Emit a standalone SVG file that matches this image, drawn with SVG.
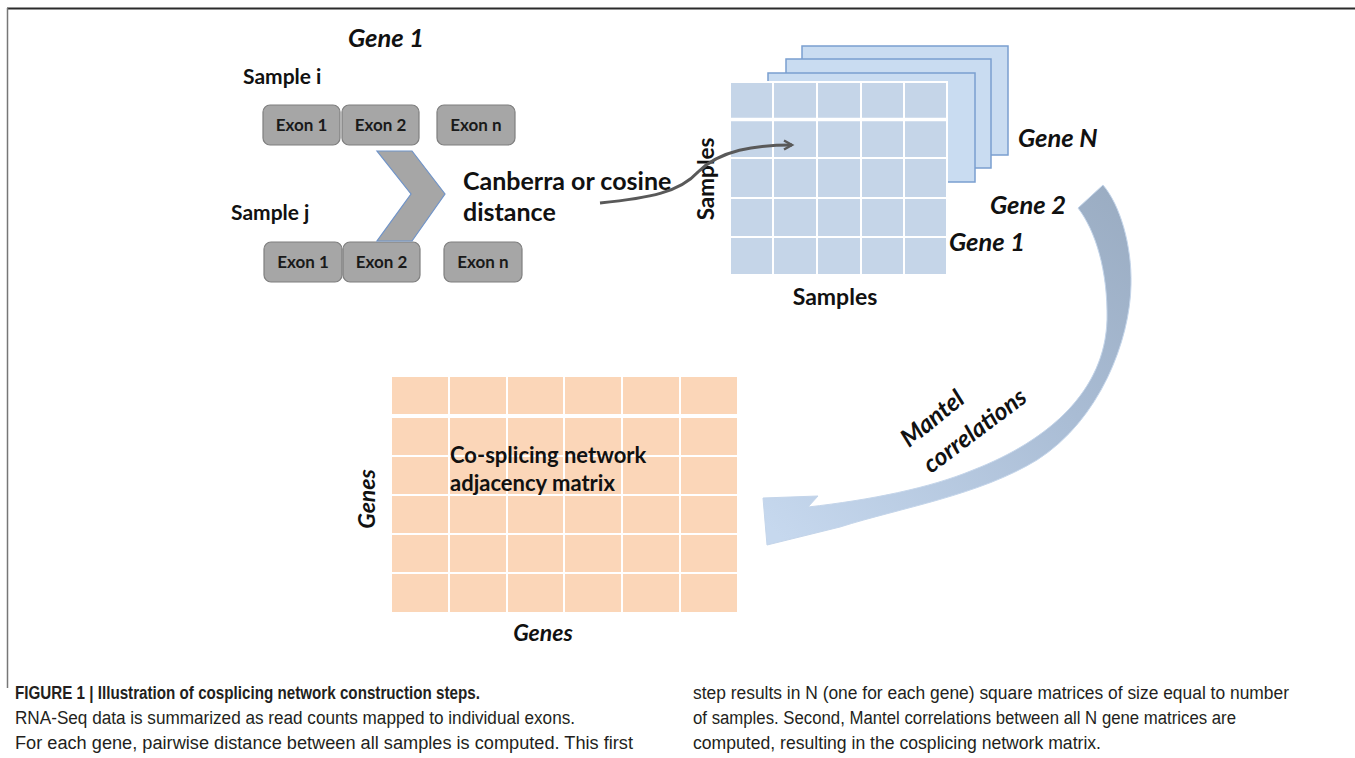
<svg xmlns="http://www.w3.org/2000/svg" width="1355" height="758" viewBox="0 0 1355 758">
  <defs>
    <style>
      .lbl { font-family: Lato, "Open Sans", "Liberation Sans", sans-serif; font-weight: 700; fill: #111; }
      .it { font-style: italic; }
      .exon rect { fill: #a6a6a6; stroke: #7f7f7f; stroke-width: 1.2; }
      .exon text { font-family: Lato, "Open Sans", "Liberation Sans", sans-serif; font-weight: 700; font-size: 17px; fill: #1a1a1a; text-anchor: middle; }
      .grid-blue line { stroke: #ffffff; stroke-width: 2; }
      .grid-peach line { stroke: #ffffff; stroke-width: 2; }
      .layer { fill: #c9dcf1; stroke: #7a9fcf; stroke-width: 1.5; }
      .cap { font-family: "Liberation Sans Narrow", "Liberation Sans", Arial, sans-serif; font-size: 18px; fill: #231f20; }
    </style>
    <marker id="openHead" viewBox="0 0 12 12" refX="9" refY="6" markerWidth="4" markerHeight="4" orient="auto" markerUnits="strokeWidth">
      <path d="M1,1.5 L9,6 L1,10.5" fill="none" stroke="#595959" stroke-width="2.4" stroke-linejoin="miter"/>
    </marker>
    <linearGradient id="mantelFill" gradientUnits="userSpaceOnUse" x1="1100" y1="185" x2="790" y2="545">
      <stop offset="0" stop-color="#9badc3"/>
      <stop offset="0.4" stop-color="#a9bcd4"/>
      <stop offset="1" stop-color="#c6d8ee"/>
    </linearGradient>
  </defs>

  <rect x="0" y="0" width="1355" height="758" fill="#ffffff"/>

  <!-- figure frame -->
  <g id="frame">
    <line x1="7" y1="8.5" x2="1355" y2="8.5" stroke="#2b2b2b" stroke-width="2"/>
    <line x1="7.5" y1="8" x2="7.5" y2="688" stroke="#777777" stroke-width="1.5"/>
  </g>

  <!-- gene 1 exon layout -->
  <g id="gene1-title">
    <text class="lbl it" x="386" y="47" font-size="25.5" text-anchor="middle">Gene 1</text>
  </g>
  <g id="sample-i">
    <text class="lbl" x="243" y="84" font-size="21">Sample i</text>
  </g>
  <g id="exon-i-1" class="exon">
    <rect x="263" y="105" width="77" height="40" rx="7"/>
    <text x="301.5" y="131">Exon 1</text>
  </g>
  <g id="exon-i-2" class="exon">
    <rect x="342" y="105" width="77" height="40" rx="7"/>
    <text x="380.5" y="131">Exon 2</text>
  </g>
  <g id="exon-i-n" class="exon">
    <rect x="437" y="105" width="78" height="40" rx="7"/>
    <text x="476" y="131">Exon n</text>
  </g>
  <g id="sample-j">
    <text class="lbl" x="231" y="220" font-size="21">Sample j</text>
  </g>
  <g id="exon-j-1" class="exon">
    <rect x="264" y="242" width="78" height="40" rx="7"/>
    <text x="303" y="268">Exon 1</text>
  </g>
  <g id="exon-j-2" class="exon">
    <rect x="343" y="242" width="77" height="40" rx="7"/>
    <text x="381.5" y="268">Exon 2</text>
  </g>
  <g id="exon-j-n" class="exon">
    <rect x="444" y="242" width="78" height="40" rx="7"/>
    <text x="483" y="268">Exon n</text>
  </g>

  <!-- chevron -->
  <g id="chevron">
    <polygon points="377,151 412,151 445,194 412,241 377,241 411,194" fill="#a6a6a6" stroke="#6f93c8" stroke-width="1.2"/>
  </g>

  <g id="distance-label">
    <text class="lbl" x="463" y="190" font-size="25">Canberra or cosine</text>
    <text class="lbl" x="463" y="221" font-size="25">distance</text>
  </g>

  <!-- per-gene sample x sample matrices -->
  <g id="gene-matrices">
    <rect class="layer" x="802" y="46" width="206" height="109"/>
    <rect class="layer" x="786" y="59" width="205" height="109"/>
    <rect class="layer" x="768" y="73" width="207" height="109"/>
    <rect x="730" y="82" width="217" height="193" fill="#c5d5e8" stroke="#ffffff" stroke-width="2"/>
    <g class="grid-blue">
      <line x1="773" y1="82" x2="773" y2="275"/>
      <line x1="817" y1="82" x2="817" y2="275"/>
      <line x1="861" y1="82" x2="861" y2="275"/>
      <line x1="904" y1="82" x2="904" y2="275"/>
      <line x1="730" y1="119.5" x2="947" y2="119.5" style="stroke-width:3.5"/>
      <line x1="730" y1="158" x2="947" y2="158"/>
      <line x1="730" y1="198" x2="947" y2="198"/>
      <line x1="730" y1="237" x2="947" y2="237"/>
    </g>
  </g>
  <g id="samples-y-label">
    <text class="lbl" transform="translate(714,179) rotate(-90)" font-size="22.5" text-anchor="middle">Samples</text>
  </g>
  <g id="samples-x-label">
    <text class="lbl" x="835" y="305" font-size="23" text-anchor="middle">Samples</text>
  </g>
  <g id="gene-labels">
    <text class="lbl it" x="1018" y="147" font-size="25.5">Gene N</text>
    <text class="lbl it" x="990" y="214" font-size="25.5">Gene 2</text>
    <text class="lbl it" x="949" y="251" font-size="25.5">Gene 1</text>
  </g>

  <!-- co-splicing adjacency matrix -->
  <g id="adjacency-matrix">
    <rect x="392" y="377" width="345" height="235" fill="#fbd6b8"/>
    <g class="grid-peach">
      <line x1="449" y1="377" x2="449" y2="612"/>
      <line x1="507" y1="377" x2="507" y2="612"/>
      <line x1="564" y1="377" x2="564" y2="612"/>
      <line x1="622" y1="377" x2="622" y2="612"/>
      <line x1="680" y1="377" x2="680" y2="612"/>
      <line x1="392" y1="416" x2="737" y2="416" style="stroke-width:4"/>
      <line x1="392" y1="456" x2="737" y2="456"/>
      <line x1="392" y1="495" x2="737" y2="495"/>
      <line x1="392" y1="534" x2="737" y2="534"/>
      <line x1="392" y1="573" x2="737" y2="573"/>
    </g>
    <text class="lbl" x="450" y="463" font-size="22">Co-splicing network</text>
    <text class="lbl" x="450" y="491" font-size="22">adjacency matrix</text>
  </g>
  <g id="genes-y-label">
    <text class="lbl it" transform="translate(375,499) rotate(-90)" font-size="23" text-anchor="middle">Genes</text>
  </g>
  <g id="genes-x-label">
    <text class="lbl it" x="543" y="641" font-size="23" text-anchor="middle">Genes</text>
  </g>

  <!-- connectors -->
  <g id="connectors">
    <path id="distance-arrow" d="M600,203 C650,198 680,192 698,172 C720,150 755,145 792,145" fill="none" stroke="#595959" stroke-width="3" marker-end="url(#openHead)"/>
    <path id="mantel-arrow" d="M1078,208 L1103,185 C1120,205 1132,245 1131,285 C1130,340 1100,420 1037,460 C980,495 900,508 840,527 L767,545 L763,498 L818,496 L808,507 C870,500 930,488 973,470 C1050,440 1105,390 1107,320 C1108,270 1095,230 1078,208 Z" fill="url(#mantelFill)" stroke="#c4d5ea" stroke-width="1"/>
    <g id="mantel-label">
      <text class="lbl it" transform="translate(909,448) rotate(-39)" font-size="24.5">Mantel</text>
      <text class="lbl it" transform="translate(931,474) rotate(-37)" font-size="24.5">correlations</text>
    </g>
  </g>

  <!-- caption -->
  <g id="caption">
    <text class="cap" x="15" y="699" font-weight="700" textLength="465" lengthAdjust="spacingAndGlyphs">FIGURE 1 | Illustration of cosplicing network construction steps.</text>
    <text class="cap" x="15" y="724" textLength="560" lengthAdjust="spacingAndGlyphs">RNA-Seq data is summarized as read counts mapped to individual exons.</text>
    <text class="cap" x="15" y="749" textLength="618" lengthAdjust="spacingAndGlyphs">For each gene, pairwise distance between all samples is computed. This first</text>
    <text class="cap" x="693" y="699" textLength="596" lengthAdjust="spacingAndGlyphs">step results in N (one for each gene) square matrices of size equal to number</text>
    <text class="cap" x="693" y="724" textLength="543" lengthAdjust="spacingAndGlyphs">of samples. Second, Mantel correlations between all N gene matrices are</text>
    <text class="cap" x="693" y="749" textLength="408" lengthAdjust="spacingAndGlyphs">computed, resulting in the cosplicing network matrix.</text>
  </g>
</svg>
